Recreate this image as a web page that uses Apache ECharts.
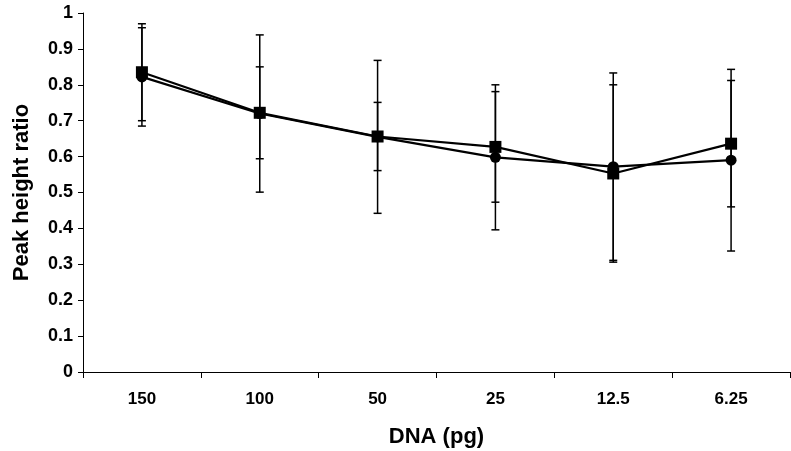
<!DOCTYPE html>
<html><head><meta charset="utf-8">
<script src="https://cdn.jsdelivr.net/npm/echarts@6/dist/echarts.min.js"></script>
<style>html,body{margin:0;padding:0;background:#fff}#c{width:791px;height:451px}</style>
</head><body><div id="c"></div>
<script>
const categories = ['150', '100', '50', '25', '12.5', '6.25'];
const squareValues = [0.835, 0.722, 0.656, 0.627, 0.553, 0.636];
const circleValues = [0.822, 0.720, 0.655, 0.598, 0.572, 0.590];
const squareErr = [0.135, 0.128, 0.095, 0.154, 0.247, 0.176];
const circleErr = [0.137, 0.219, 0.213, 0.202, 0.261, 0.253];
const yTicks = { min: 0, max: 1, interval: 0.1 };

const font = 'Liberation Sans, Arial, sans-serif';
function errData(vals, errs) {
  return vals.map((v, i) => [i, v - errs[i], v + errs[i]]);
}
function renderErr(params, api) {
  const i = api.value(0);
  const lo = api.coord([i, api.value(1)]);
  const hi = api.coord([i, api.value(2)]);
  const hw = 4;
  const st = { stroke: '#000', lineWidth: 1.5 };
  return {
    type: 'group',
    children: [
      { type: 'line', shape: { x1: hi[0], y1: hi[1], x2: lo[0], y2: lo[1] }, style: st },
      { type: 'line', shape: { x1: hi[0] - hw, y1: hi[1], x2: hi[0] + hw, y2: hi[1] }, style: st },
      { type: 'line', shape: { x1: lo[0] - hw, y1: lo[1], x2: lo[0] + hw, y2: lo[1] }, style: st }
    ]
  };
}
const chart = echarts.init(document.getElementById('c'), null, { renderer: 'canvas' });
chart.setOption({
  animation: false,
  backgroundColor: '#fff',
  grid: { left: 83, right: 1, top: 13, bottom: 79, outerBoundsMode: 'none', containLabel: false },
  xAxis: {
    type: 'category',
    data: categories,
    boundaryGap: true,
    name: 'DNA (pg)',
    nameLocation: 'middle',
    nameGap: 54,
    nameTextStyle: { fontFamily: font, fontWeight: 'bold', fontSize: 22, color: '#000' },
    axisLine: { lineStyle: { color: '#000', width: 1 } },
    axisTick: { show: true, length: 6, alignWithLabel: false, lineStyle: { color: '#000' } },
    axisLabel: { fontFamily: font, fontWeight: 'bold', fontSize: 17, color: '#000', margin: 19 },
    splitLine: { show: false }
  },
  yAxis: {
    type: 'value',
    min: yTicks.min, max: yTicks.max, interval: yTicks.interval,
    name: 'Peak height ratio',
    nameLocation: 'middle',
    nameGap: 50,
    nameRotate: 90,
    nameTextStyle: { fontFamily: font, fontWeight: 'bold', fontSize: 22, color: '#000' },
    axisLine: { show: true, lineStyle: { color: '#000', width: 1 } },
    axisTick: { show: true, length: 5, lineStyle: { color: '#000' } },
    axisLabel: { fontFamily: font, fontWeight: 'bold', fontSize: 18, color: '#000', margin: 10,
      formatter: v => String(Math.round(v * 10) / 10) },
    splitLine: { show: false }
  },
  series: [
    { type: 'custom', renderItem: renderErr, data: errData(circleValues, circleErr), z: 1,
      encode: { x: 0, y: [1, 2] } },
    { type: 'custom', renderItem: renderErr, data: errData(squareValues, squareErr), z: 1,
      encode: { x: 0, y: [1, 2] } },
    { type: 'line', data: circleValues, symbol: 'circle', symbolSize: 11, z: 3,
      lineStyle: { color: '#000', width: 2.2 }, itemStyle: { color: '#000' } },
    { type: 'line', data: squareValues, symbol: 'rect', symbolSize: 12, z: 4,
      lineStyle: { color: '#000', width: 2.2 }, itemStyle: { color: '#000' } }
  ]
});
</script></body></html>
